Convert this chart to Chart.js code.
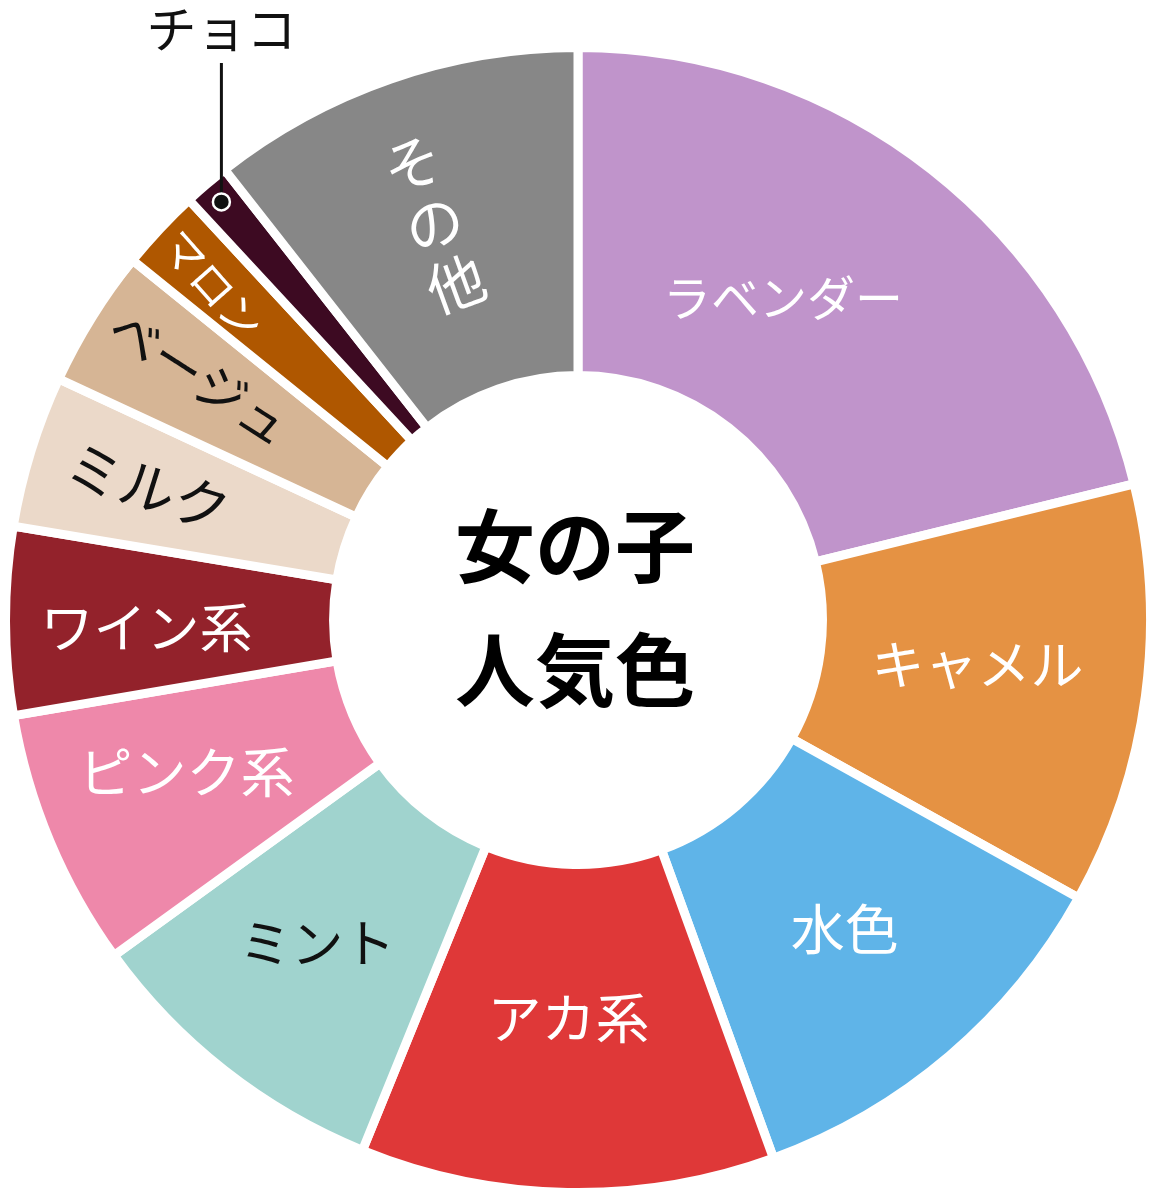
<!DOCTYPE html>
<html lang="ja">
<head>
<meta charset="utf-8">
<script src="https://cdn.jsdelivr.net/npm/chart.js@4"></script>
<style>
  html, body { margin: 0; padding: 0; background: #ffffff; }
  #wrap { position: relative; width: 1157px; height: 1200px; }
</style>
</head>
<body>
<div id="wrap"><canvas id="c"></canvas></div>
<script>
// ---- data ----
const categories = ['ラベンダー', 'キャメル', '水色', 'アカ系', 'ミント', 'ピンク系', 'ワイン系', 'ミルク', 'ベージュ', 'マロン', 'チョコ', 'その他'];
const values = [21.2, 11.9, 11.4, 11.7, 8.9, 7.3, 5.3, 4.3, 3.9, 2.3, 1.3, 10.6];
const centerTitle = ['女の子', '人気色'];

// ---- styles ----
const sliceColors = ['#C094CB', '#E59243', '#5FB4E8', '#DF3838', '#A0D3CE', '#EE88AA', '#93222B', '#EBD9C9', '#D6B595', '#AF5700', '#3D0A22', '#878787'];
const labelColors = ['#fff', '#fff', '#fff', '#fff', '#111', '#fff', '#fff', '#111', '#111', '#fff', '#111', '#fff'];
// label mode: h = horizontal, r = rotated along radius, v = vertical along radius, out = callout
const labelModes = ['h', 'h', 'h', 'h', 'h', 'h', 'h', 'r', 'r', 'r', 'out', 'v'];
const labelSizes = [48, 53, 54, 54, 52, 54, 53, 56, 51, 43, 50, 58];
// [angle shift in degrees from slice middle, position across the ring 0=inner..1=outer, extra tilt in degrees]
const labelPlace = [[-5.7, 0.42, 0], [-1.3, 0.48, 0], [-0.3, 0.50, 0], [0.3, 0.47, 0], [0.8, 0.52, 0], [1.5, 0.535, 0], [-0.9, 0.57, 0], [0, 0.627, 0], [0.8, 0.625, 0], [-0.5, 0.767, 6], [0, 0.93, 0], [-0.9, 0.54, 0]];

const FONT = '"Noto Sans CJK JP", "Noto Sans", sans-serif';

const labelPlugin = {
  id: 'labelPlugin',
  afterDatasetsDraw(chart) {
    const ctx = chart.ctx;
    const meta = chart.getDatasetMeta(0);
    let cx = 0, cy = 0;
    meta.data.forEach((arc, i) => {
      const p = arc.getProps(['x', 'y', 'startAngle', 'endAngle', 'innerRadius', 'outerRadius'], true);
      cx = p.x; cy = p.y;
      const mid = (p.startAngle + p.endAngle) / 2 + labelPlace[i][0] * Math.PI / 180;
      const tilt = labelPlace[i][2] * Math.PI / 180;
      const r = p.innerRadius + labelPlace[i][1] * (p.outerRadius - p.innerRadius);
      const x = p.x + r * Math.cos(mid);
      const y = p.y + r * Math.sin(mid);
      ctx.save();
      ctx.fillStyle = labelColors[i];
      ctx.font = `400 ${labelSizes[i]}px ${FONT}`;
      ctx.textAlign = 'center';
      ctx.textBaseline = 'middle';
      const mode = labelModes[i];
      if (mode === 'h') {
        ctx.fillText(categories[i], x, y);
      } else if (mode === 'r') {
        ctx.translate(x, y);
        ctx.rotate(mid - Math.PI + tilt);
        ctx.fillText(categories[i], 0, 0);
      } else if (mode === 'v') {
        ctx.translate(x, y);
        ctx.rotate(mid + Math.PI / 2 - 2 * Math.PI + tilt);
        const chars = Array.from(categories[i]);
        const step = 64;
        chars.forEach((ch, k) => {
          ctx.fillText(ch, 0, (k - (chars.length - 1) / 2) * step);
        });
      } else if (mode === 'out') {
        const lineTop = 63;
        ctx.strokeStyle = '#111';
        ctx.lineWidth = 3;
        ctx.beginPath();
        ctx.moveTo(x, y);
        ctx.lineTo(x, lineTop);
        ctx.stroke();
        ctx.beginPath();
        ctx.arc(x, y, 8.5, 0, Math.PI * 2);
        ctx.fillStyle = '#111';
        ctx.fill();
        ctx.lineWidth = 2.5;
        ctx.strokeStyle = '#fff';
        ctx.stroke();
        ctx.fillStyle = labelColors[i];
        ctx.fillText(categories[i], x, 29);
      }
      ctx.restore();
    });
    // centre title
    ctx.save();
    ctx.fillStyle = '#000';
    ctx.font = `700 80px ${FONT}`;
    ctx.textAlign = 'center';
    ctx.textBaseline = 'middle';
    ctx.fillText(centerTitle[0], cx - 3, cy - 74);
    ctx.fillText(centerTitle[1], cx - 3, cy + 50);
    ctx.restore();
  }
};

new Chart(document.getElementById('c'), {
  type: 'doughnut',
  data: {
    labels: categories,
    datasets: [{
      data: values,
      backgroundColor: sliceColors,
      borderColor: '#ffffff',
      borderWidth: 9,
      borderJoinStyle: 'miter',
      hoverOffset: 0
    }]
  },
  options: {
    responsive: true,
    maintainAspectRatio: false,
    animation: false,
    cutout: '42.7%',
    layout: { padding: { top: 43, bottom: 3, left: 1, right: 2 } },
    plugins: {
      legend: { display: false },
      tooltip: { enabled: false }
    },
    events: []
  },
  plugins: [labelPlugin]
});
</script>
</body>
</html>
